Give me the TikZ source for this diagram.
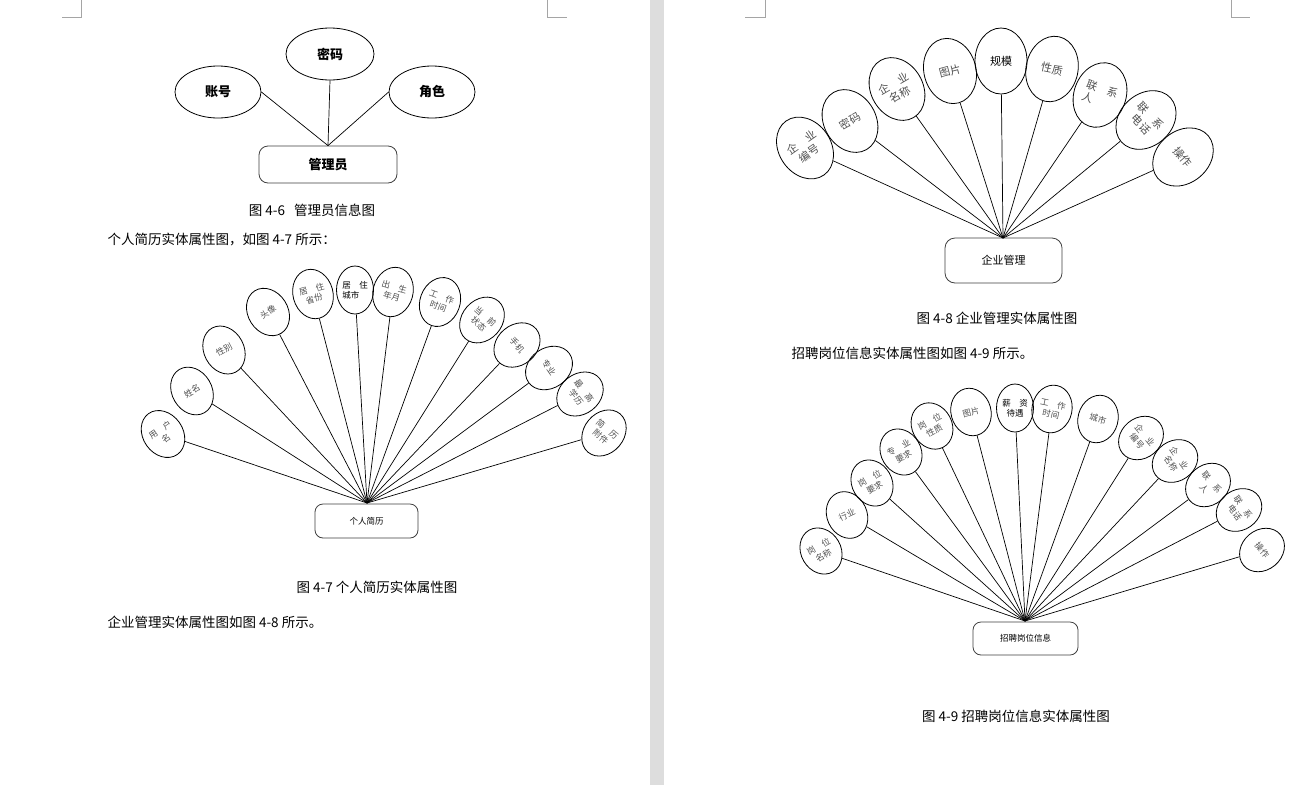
\documentclass[tikz,border=0pt]{standalone}
\usepackage{fontspec}
\setmainfont{Noto Sans CJK SC}
\usetikzlibrary{shapes.geometric}
\definecolor{markC}{RGB}{165,165,165}
\definecolor{gapC}{RGB}{221,221,221}
\definecolor{labelC}{RGB}{80,80,80}
\tikzset{
	attr/.style={draw, ellipse, line width=0.8pt, inner sep=0pt, align=center,
		text=labelC, minimum width=40pt, minimum height=50pt,
		font=\fontsize{8.5}{10}\selectfont},
	attrC/.style={attr, minimum width=52pt, minimum height=66pt,
		font=\fontsize{11}{13}\selectfont},
	attrD/.style={attr, minimum width=40pt, minimum height=48pt},
	attrkey/.style={draw, ellipse, line width=0.8pt, inner sep=0pt,
		minimum width=86pt, minimum height=52pt,
		font=\fontsize{13}{15}\selectfont\bfseries},
	entity/.style={draw=black!75, rounded corners=8pt, line width=0.8pt,
		inner sep=0pt},
	link/.style={line width=0.7pt},
	caption/.style={font=\fontsize{13.5}{15}\selectfont},
	para/.style={font=\fontsize{13.5}{15}\selectfont, anchor=west},
	cornermark/.style={markC, line width=0.7pt},
}
\begin{document}
\begin{tikzpicture}[x=1pt, y=-1pt]
	\useasboundingbox (0,0) rectangle (1293,785);
	\fill[white] (0,0) rectangle (1293,785);
	\fill[gapC] (650,0) rectangle (664,785);
	
	% page corner marks
	\draw[cornermark] (62,17) -- (81,17) -- (81,0);
	\draw[cornermark] (547,0) -- (547,17) -- (567,17);
	\draw[cornermark] (745,17) -- (765,17) -- (765,0);
	\draw[cornermark] (1231,0) -- (1231,17) -- (1250,17);
	
	% ================= Fig 4-6: admin =================
	\node[entity, minimum width=138pt, minimum height=37pt, rounded corners=9pt,
	font=\fontsize{13}{15}\selectfont\bfseries] (admin) at (328,164.5) {管理员};
	\coordinate (hubA) at (admin.north);
	\node[attrkey] (acc) at (218,92) {账号};
	\node[attrkey, minimum width=88pt] (pwd) at (330,54) {密码};
	\node[attrkey] (role) at (432,92) {角色};
	\draw[link] (hubA) -- (acc.east);
	\draw[link] (hubA) -- (pwd.south);
	\draw[link] (hubA) -- (role.west);
	\node[caption] (capA) at (312,210) {图 4-6\ \ \ 管理员信息图};
	
	\node[para] (txtA) at (104,239) {个人简历实体属性图，如图 4-7 所示：};
	
	% ================= Fig 4-7: resume =================
	\node[entity, minimum width=103pt, minimum height=34pt,
	font=\fontsize{8.5}{10}\selectfont] (resume) at (366.5,521) {个人简历};
	\coordinate (hubB) at (367,503);
	\foreach \px/\py/\rot/\txt [count=\i] in {
		163/434/35/{用\quad 户\\名}, 192/391/30/姓名, 224/350/28/性别,
		268/312/32/头像, 313/294/15/{居\quad 住\\省份},
		393/292/-15/{出\quad 生\\年月}, 440/302/-20/{工\quad 作\\时间},
		482/320/-42/{当\quad 前\\状态}, 517/345/-50/手机, 549/368/-55/专业,
		580/394/-52/{最\quad 高\\学历}, 604/433/-40/{简\quad 历\\附件}}{
		\node[attr, rotate=\rot] (b\i) at (\px,\py) {\txt};
		\draw[link] (hubB) -- (b\i);
	}
	\node[attr, text=black, minimum width=37pt, minimum height=48pt, align=left]
	(bcity) at (355,290) {居\quad 住\\城市};
	\draw[link] (hubB) -- (bcity);
	\node[caption] (capB) at (377,587) {图 4-7 个人简历实体属性图};
	
	\node[para] (txtB) at (104,622) {企业管理实体属性图如图 4-8 所示。};
	
	% ================= Fig 4-8: company =================
	\node[entity, minimum width=117pt, minimum height=45pt, rounded corners=10pt,
	font=\fontsize{11}{13}\selectfont] (company) at (1003.5,260.5) {企业管理};
	\coordinate (hubC) at (1003,238);
	\foreach \px/\py/\rot/\txt [count=\i] in {
		805/148/35/{企\quad 业\\编号}, 850/121/30/密码,
		897/89/30/{企\quad 业\\名称}, 950/71/15/图片, 1052/69/-12/性质,
		1146/120/-48/{联\quad 系\\电话}, 1183/157/-50/操作}{
		\node[attrC, rotate=\rot] (c\i) at (\px,\py) {\txt};
		\draw[link] (hubC) -- (c\i);
	}
	\node[attrC, rotate=-20, align=left] (cperson) at (1100,95) {联\quad 系\\人};
	\draw[link] (hubC) -- (cperson);
	\node[attrC, text=black] (cscale) at (1001,61) {规模};
	\draw[link] (hubC) -- (cscale);
	\node[caption] (capC) at (997,318) {图 4-8 企业管理实体属性图};
	
	\node[para] (txtC) at (788,353) {招聘岗位信息实体属性图如图 4-9 所示。};
	
	% ================= Fig 4-9: job =================
	\node[entity, minimum width=105pt, minimum height=33pt,
	font=\fontsize{8.5}{10}\selectfont] (job) at (1025.5,638.5) {招聘岗位信息};
	\coordinate (hubD) at (1025,621);
	\foreach \px/\py/\rot/\txt [count=\i] in {
		821/551/30/{岗\quad 位\\名称}, 847/515/25/行业,
		872/483/30/{岗\quad 位\\要求}, 901/452/30/{专\quad 业\\要求},
		932/426/28/{岗\quad 位\\性质}, 971/412/15/图片,
		1052/409/-12/{工\quad 作\\时间}, 1098/419/-15/城市,
		1141/438/-50/{企\quad 业\\编号}, 1175/461/-55/{企\quad 业\\名称},
		1208/485/-50/{联\quad 系\\人}, 1239/510/-55/{联\quad 系\\电话},
		1262/550/-50/操作}{
		\node[attrD, rotate=\rot] (d\i) at (\px,\py) {\txt};
		\draw[link] (hubD) -- (d\i);
	}
	\node[attrD, text=black, minimum width=37pt] (dpay) at (1015,408) {薪\quad 资\\待遇};
	\draw[link] (hubD) -- (dpay);
	\node[caption] (capD) at (1016,716) {图 4-9 招聘岗位信息实体属性图};
	
\end{tikzpicture}
\end{document}
